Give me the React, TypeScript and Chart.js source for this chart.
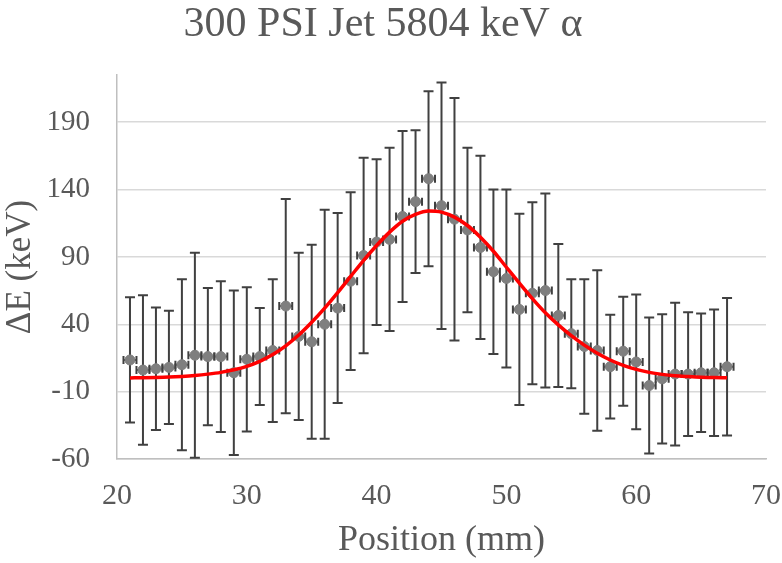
import { useRef, useEffect } from "react"
import React from "react"
import { Chart, registerables } from "chart.js"

Chart.register(...registerables)

const positions = [
  21, 22, 23, 24, 25, 26, 27, 28, 29, 30, 31, 32, 33, 34, 35, 36, 37, 38, 39, 40, 41, 42, 43, 44,
  45, 46, 47, 48, 49, 50, 51, 52, 53, 54, 55, 56, 57, 58, 59, 60, 61, 62, 63, 64, 65, 66, 67,
]
const deltaE = [
  13.5, 6, 7, 8, 10, 17, 16, 16, 4, 14, 16, 20.5, 53.5, 31, 27, 40, 52, 72, 91, 101, 103, 120, 131, 148,
  128, 118, 110, 97, 79, 74, 51, 63, 65, 46.5, 33, 23.5, 20.5, 8.5, 20, 12, -5.5, -0.5, 3, 3, 4, 4, 8.5,
]
const deltaEError = [
  46.5, 55.5, 45.5, 42, 63.5, 76, 51, 56, 61, 53.5, 36, 53, 79.5, 62, 72, 85, 70.5, 66, 72.5, 61.5, 68, 63.5, 53, 65,
  91.5, 90, 61, 68, 61, 66, 71, 67.5, 72, 53, 40.5, 50, 59.5, 38.5, 40.5, 50, 50.5, 48, 53, 46, 44, 47, 51,
]
const positionError = 0.5
// gaussian fit at each position
const fitValues = [
  0.2, 0.3, 0.5, 0.8, 1.3, 2, 3, 4.3, 6.2, 8.8, 12.5, 17.5, 24, 32, 41.5, 52, 63.5, 75.5, 87.5, 98.5, 108.4, 116.5, 121.5, 124,
  123.2, 119.5, 113.3, 104.6, 94.2, 82.3, 70.5, 59, 48.5, 39.5, 31.5, 24.5, 18.5, 13.5, 9.5, 6.5, 4.3, 2.8, 1.8, 1.2, 0.7, 0.4, 0.3,
]
const xTicks = [20, 30, 40, 50, 60, 70]
const yTicks = [-60, -10, 40, 90, 140, 190]

const FONT = "'Liberation Serif', 'Times New Roman', serif"
const TEXT = "#595959"

const errorBars = {
  id: "errorBars",
  beforeDatasetsDraw(chart: any) {
    const { ctx, scales } = chart
    const x = scales.x
    const y = scales.y
    ctx.save()
    ctx.strokeStyle = "#404040"
    ctx.lineWidth = 2
    const cap = 5
    positions.forEach((p, i) => {
      const px = x.getPixelForValue(p)
      const py = y.getPixelForValue(deltaE[i])
      const top = y.getPixelForValue(deltaE[i] + deltaEError[i])
      const bot = y.getPixelForValue(deltaE[i] - deltaEError[i])
      const left = x.getPixelForValue(p - positionError)
      const right = x.getPixelForValue(p + positionError)
      ctx.beginPath()
      ctx.moveTo(px, top)
      ctx.lineTo(px, bot)
      ctx.moveTo(px - cap, top)
      ctx.lineTo(px + cap, top)
      ctx.moveTo(px - cap, bot)
      ctx.lineTo(px + cap, bot)
      ctx.moveTo(left, py)
      ctx.lineTo(right, py)
      ctx.moveTo(left, py - 4)
      ctx.lineTo(left, py + 4)
      ctx.moveTo(right, py - 4)
      ctx.lineTo(right, py + 4)
      ctx.stroke()
    })
    ctx.restore()
  },
}

const JetChart: React.FC = () => {
  const chartRef = useRef<HTMLCanvasElement>(null)
  const chartValueRef = useRef<Chart>()

  useEffect(() => {
    if (chartRef.current) {
      if (chartValueRef.current) {
        chartValueRef.current.destroy()
      }
      const ctx = chartRef.current.getContext("2d")

      if (ctx) {
        chartValueRef.current = new Chart(ctx, {
          type: "scatter",
          data: {
            datasets: [
              {
                type: "line",
                label: "Fit",
                data: positions.map((p, i) => ({ x: p, y: fitValues[i] })),
                borderColor: "#ff0000",
                borderWidth: 3.5,
                pointRadius: 0,
                fill: false,
                cubicInterpolationMode: "monotone",
                order: 0,
              } as any,
              {
                label: "ΔE",
                data: positions.map((p, i) => ({ x: p, y: deltaE[i] })),
                backgroundColor: "#7f7f7f",
                borderColor: "#7f7f7f",
                pointRadius: 5,
                order: 1,
              },
            ],
          },
          plugins: [errorBars],
          options: {
            animation: false,
            responsive: false,
            layout: { padding: { left: 0, right: 16, top: 0, bottom: 0 } },
            scales: {
              x: {
                type: "linear",
                min: 20,
                max: 70,
                afterBuildTicks: (axis: any) => {
                  axis.ticks = xTicks.map((v) => ({ value: v }))
                },
                afterFit: (axis: any) => {
                  axis.height = 104
                  axis.paddingLeft = 0
                  axis.paddingRight = 0
                },
                ticks: {
                  color: TEXT,
                  font: { family: FONT, size: 30 },
                  padding: 19,
                  maxRotation: 0,
                },
                grid: { display: false, drawTicks: false },
                border: { display: true, color: "#bfbfbf", width: 1.5 },
                title: {
                  display: true,
                  text: "Position (mm)",
                  color: TEXT,
                  font: { family: FONT, size: 36, lineHeight: 1 },
                  padding: { top: 0, bottom: 4 },
                },
              },
              y: {
                type: "linear",
                min: -60,
                max: 225,
                afterBuildTicks: (axis: any) => {
                  axis.ticks = yTicks.map((v) => ({ value: v }))
                },
                afterFit: (axis: any) => {
                  axis.width = 117
                  axis.paddingTop = 0
                  axis.paddingBottom = 0
                },
                ticks: {
                  color: TEXT,
                  font: { family: FONT, size: 29 },
                  padding: 27,
                },
                grid: { color: "#d9d9d9", lineWidth: 1.5, drawTicks: false },
                border: { display: true, color: "#bfbfbf", width: 1.5 },
                title: {
                  display: true,
                  text: "ΔE (keV)",
                  color: TEXT,
                  font: { family: FONT, size: 35, lineHeight: 1.2 },
                  padding: { top: 0, bottom: 0 },
                },
              },
            },
            plugins: {
              legend: { display: false },
              tooltip: { enabled: false },
              title: {
                display: true,
                text: "300 PSI Jet 5804 keV α",
                color: TEXT,
                font: { family: FONT, size: 42, weight: "normal", lineHeight: 1 },
                padding: { top: 4, bottom: 29 },
              },
            },
          },
        })
      }
    }

    return () => {
      if (chartValueRef.current) {
        chartValueRef.current.destroy()
      }
    }
  }, [])

  return <canvas ref={chartRef} width={782} height={563} />
}

export default function App() {
  return (
    <div style={{ position: "fixed", left: 0, top: 0, width: 782, height: 563, background: "#fff" }}>
      <JetChart />
    </div>
  )
}
